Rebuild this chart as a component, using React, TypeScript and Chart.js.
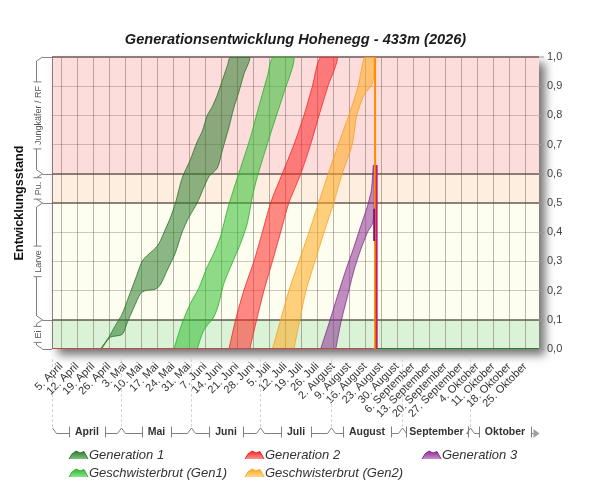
import React, { useEffect, useRef } from 'react';
import { Chart, registerables } from 'chart.js';

Chart.register(...registerables);

const FONT = '"Liberation Sans", Arial, Helvetica, sans-serif';
Chart.defaults.font.family = FONT;

// ---------- data ----------
const chartTitle = 'Generationsentwicklung Hohenegg - 433m (2026)';
const yAxisTitle = 'Entwicklungsstand';

// x axis: days since 1 April 2026
const X_MAX = 213;
const weekTickDays = [4, 11, 18, 25, 32, 39, 46, 53, 60, 67, 74, 81, 88, 95, 102, 109, 116, 123, 130, 137, 144, 151, 158, 165, 172, 179, 186, 193, 200, 207];
const weekTickLabels = [
  '5. April', '12. April', '19. April', '26. April',
  '3. Mai', '10. Mai', '17. Mai', '24. Mai', '31. Mai',
  '7. Juni', '14. Juni', '21. Juni', '28. Juni',
  '5. Juli', '12. Juli', '19. Juli', '26. Juli',
  '2. August', '9. August', '16. August', '23. August', '30. August',
  '6. September', '13. September', '20. September', '27. September',
  '4. Oktober', '11. Oktober', '18. Oktober', '25. Oktober',
];
const monthNames = ['April', 'Mai', 'Juni', 'Juli', 'August', 'September', 'Oktober'];
const monthStartDays = [0, 30, 61, 91, 122, 153, 183];

const yTickValues = [0, 0.1, 0.2, 0.3, 0.4, 0.5, 0.6, 0.7, 0.8, 0.9, 1.0];
const yTickLabels = ['0,0', '0,1', '0,2', '0,3', '0,4', '0,5', '0,6', '0,7', '0,8', '0,9', '1,0'];

const stageNames = ['Ei', 'Larve', 'Pu.', 'Jungkäfer / RF'];
const stageBounds = [0, 0.1, 0.5, 0.6, 1.0];

// [day, stage] pairs: early (fast) edge and late (slow) edge of each band
const gen1Early = [[21.2, 0], [24.8, 0.04], [27.7, 0.08], [30.7, 0.12], [33.6, 0.18], [36.5, 0.24], [39.4, 0.30], [41.6, 0.32], [44.5, 0.34], [46.7, 0.36], [49.6, 0.41], [51.8, 0.45], [54.0, 0.50], [56.9, 0.585], [60.6, 0.65], [63.5, 0.71], [65.7, 0.745], [67.9, 0.80], [70.1, 0.83], [72.3, 0.87], [74.5, 0.92], [76.7, 0.97], [78.1, 1.0]];
const gen1Late = [[21.6, 0], [25.5, 0.04], [30.7, 0.05], [32.9, 0.09], [35.7, 0.14], [38.7, 0.19], [40.9, 0.20], [45.2, 0.205], [47.4, 0.22], [50.4, 0.27], [54.0, 0.33], [56.9, 0.40], [59.8, 0.45], [63.5, 0.50], [68.6, 0.59], [72.3, 0.62], [74.5, 0.68], [77.4, 0.76], [79.5, 0.825], [81.7, 0.88], [83.9, 0.94], [86.4, 1.0]];

const sib1Early = [[53.3, 0], [56.9, 0.088], [60.6, 0.157], [64.2, 0.208], [67.9, 0.282], [70.8, 0.328], [73.7, 0.385], [76.7, 0.477], [80.3, 0.568], [83.2, 0.637], [86.9, 0.728], [90.5, 0.831], [94.2, 0.934], [96.8, 1.0]];
const sib1Late = [[63.5, 0], [66.4, 0.065], [70.8, 0.11], [73.0, 0.157], [75.2, 0.225], [78.8, 0.294], [82.5, 0.362], [85.4, 0.43], [87.6, 0.52], [89.8, 0.59], [93.4, 0.682], [97.1, 0.774], [101.4, 0.877], [105.8, 1.0]];

const gen2Early = [[77.4, 0], [80.3, 0.1], [83.9, 0.2], [88.3, 0.3], [92.0, 0.4], [95.6, 0.5], [100.7, 0.6], [105.8, 0.7], [110.2, 0.8], [113.9, 0.9], [117.5, 1.0]];
const gen2Late = [[86.5, 0], [89.5, 0.1], [92.7, 0.2], [96.4, 0.3], [100.0, 0.4], [103.6, 0.5], [108.8, 0.6], [113.1, 0.7], [116.8, 0.8], [120.7, 0.9], [124.8, 1.0]];

const sib2Early = [[96.4, 0], [100.0, 0.1], [103.6, 0.2], [108.0, 0.3], [112.4, 0.4], [116.6, 0.5], [120.8, 0.6], [125.2, 0.7], [129.8, 0.8], [133.9, 0.9], [136.8, 1.0]];
const sib2Late = [[105.8, 0], [108.4, 0.1], [111.1, 0.2], [115.0, 0.3], [119.0, 0.4], [123.2, 0.5], [126.9, 0.6], [131.3, 0.7], [133.3, 0.8], [136.5, 0.87], [140.2, 0.91], [140.6, 1.0]];

const gen3Early = [[117.5, 0], [121.2, 0.089], [124.8, 0.18], [128.5, 0.27], [132.1, 0.35], [135.0, 0.42], [138.0, 0.49], [139.7, 0.545], [140.6, 0.63]];
const gen3Late = [[124.1, 0], [126.3, 0.089], [129.2, 0.18], [132.1, 0.27], [135.0, 0.34], [138.0, 0.40], [140.2, 0.43], [140.9, 0.48]];

// vertical cut-off at the current date and the zero lines
const cutSib2 = [[141.3, 0], [141.3, 1.0]];
const cutGen3 = [[142.0, 0], [142.0, 0.63]];
const cutGen3Inner = [[140.9, 0.48], [140.9, 0.37]];
const baseBefore = [[0, 0], [142.0, 0]];
const baseAfter = [[142.0, 0], [X_MAX, 0]];

// ---------- styling ----------
const bandDefs = [
  { label: 'Generation 1', early: gen1Early, late: gen1Late, fill: 'rgba(45,125,45,0.55)', line: 'rgba(35,105,35,0.75)', solid: '#2c7a2c', light: '#7fbf7f', col: 0, row: 0 },
  { label: 'Geschwisterbrut (Gen1)', early: sib1Early, late: sib1Late, fill: 'rgba(50,190,50,0.55)', line: 'rgba(40,175,40,0.8)', solid: '#2fb52f', light: '#8fe08f', col: 0, row: 1 },
  { label: 'Generation 2', early: gen2Early, late: gen2Late, fill: 'rgba(255,40,40,0.55)', line: 'rgba(240,40,40,0.8)', solid: '#f02424', light: '#ff9090', col: 1, row: 0 },
  { label: 'Geschwisterbrut (Gen2)', early: sib2Early, late: sib2Late, fill: 'rgba(255,170,30,0.55)', line: 'rgba(250,160,30,0.8)', solid: '#f8a820', light: '#ffd890', col: 1, row: 1 },
  { label: 'Generation 3', early: gen3Early, late: gen3Late, fill: 'rgba(140,50,150,0.55)', line: 'rgba(125,35,135,0.75)', solid: '#8a2a94', light: '#c890cc', col: 2, row: 0 },
];
const stageColors = ['#daf2d6', '#fdfdf0', '#fdeedf', '#fddcdc'];
const legendCols = [69, 245, 422];
const legendRows = [455, 473];

const toPts = (arr: number[][]) => arr.map(([x, y]) => ({ x, y }));

const lineDs = (label: string, arr: number[][], color: string, width: number) => ({
  label,
  data: toPts(arr),
  borderColor: color,
  backgroundColor: color,
  borderWidth: width,
  fill: false,
  tension: 0,
  pointRadius: 0,
});

const decorPlugin = {
  id: 'decor',
  beforeDraw(chart: any) {
    const { ctx, chartArea: a, scales } = chart;
    const y = scales.y;
    ctx.save();
    ctx.fillStyle = '#ffffff';
    ctx.fillRect(0, 0, chart.width, chart.height);
    ctx.shadowColor = 'rgba(0,0,0,0.55)';
    ctx.shadowBlur = 9;
    ctx.shadowOffsetX = 6;
    ctx.shadowOffsetY = 6;
    ctx.fillStyle = '#ffffff';
    ctx.fillRect(a.left, a.top, a.right - a.left, a.bottom - a.top);
    ctx.restore();
    ctx.save();
    for (let i = 0; i < stageBounds.length - 1; i++) {
      const yb = y.getPixelForValue(stageBounds[i]);
      const yt = y.getPixelForValue(stageBounds[i + 1]);
      ctx.fillStyle = stageColors[i];
      ctx.fillRect(a.left, yt, a.right - a.left, yb - yt);
    }
    ctx.restore();
  },
  beforeDatasetsDraw(chart: any) {
    const { ctx, chartArea: a } = chart;
    ctx.save();
    ctx.strokeStyle = 'rgba(120,105,105,0.85)';
    ctx.lineWidth = 1;
    ctx.beginPath();
    ctx.moveTo(a.left + 0.5, a.top);
    ctx.lineTo(a.left + 0.5, a.bottom);
    ctx.stroke();
    ctx.restore();
  },
  afterDraw(chart: any) {
    const { ctx, chartArea: a, scales } = chart;
    const x = scales.x;
    const y = scales.y;
    ctx.save();
    // title
    ctx.fillStyle = '#1b1b1b';
    ctx.font = `italic bold 14.6px ${FONT}`;
    ctx.textAlign = 'center';
    ctx.textBaseline = 'middle';
    ctx.fillText(chartTitle, (a.left + a.right) / 2, 40);

    // y title
    ctx.save();
    ctx.translate(20, (a.top + a.bottom) / 2);
    ctx.rotate(-Math.PI / 2);
    ctx.font = `bold 12.6px ${FONT}`;
    ctx.fillStyle = '#111';
    ctx.fillText(yAxisTitle, 0, 0);
    ctx.restore();

    // stage brackets on the left
    const lineX = 36.5;
    const peakX = 42.5;
    ctx.lineWidth = 1;
    ctx.font = `9px ${FONT}`;
    for (let i = 0; i < stageNames.length; i++) {
      const yb = y.getPixelForValue(stageBounds[i]);
      const yt = y.getPixelForValue(stageBounds[i + 1]);
      const cy = (yb + yt) / 2;
      const tw = ctx.measureText(stageNames[i]).width;
      const gap = tw / 2 + 4;
      ctx.strokeStyle = '#808080';
      ctx.beginPath();
      ctx.moveTo(peakX, yb);
      ctx.lineTo(lineX, yb - 4);
      ctx.lineTo(lineX, cy + gap);
      ctx.moveTo(lineX - 3, cy + gap);
      ctx.lineTo(lineX + 5, cy + gap);
      ctx.moveTo(lineX - 3, cy - gap);
      ctx.lineTo(lineX + 5, cy - gap);
      ctx.moveTo(lineX, cy - gap);
      ctx.lineTo(lineX, yt + 4);
      ctx.lineTo(peakX, yt);
      ctx.stroke();
      ctx.save();
      ctx.translate(lineX + 2.5, cy);
      ctx.rotate(-Math.PI / 2);
      ctx.fillStyle = '#555';
      ctx.textAlign = 'center';
      ctx.textBaseline = 'middle';
      ctx.fillText(stageNames[i], 0, 0);
      ctx.restore();
    }
    ctx.strokeStyle = '#8a8080';
    ctx.beginPath();
    for (const b of stageBounds) {
      const py = Math.round(y.getPixelForValue(b)) + 0.5;
      ctx.moveTo(peakX, py);
      ctx.lineTo(a.left, py);
    }
    ctx.stroke();

    // month brackets below the axis
    const yb = 433.5;
    const peakY = 428;
    ctx.font = `bold 10.5px ${FONT}`;
    ctx.textAlign = 'center';
    ctx.textBaseline = 'middle';
    for (let i = 0; i < monthNames.length; i++) {
      const last = i === monthNames.length - 1;
      const xs = Math.round(x.getPixelForValue(monthStartDays[i])) + 0.5;
      const xe = Math.round(x.getPixelForValue(last ? X_MAX : monthStartDays[i + 1])) + 0.5;
      const cx = (xs + xe) / 2;
      const tw = ctx.measureText(monthNames[i]).width;
      const bl = Math.round(Math.max(cx - tw / 2 - 6, xs + 3)) + 0.5;
      const br = Math.round(Math.min(cx + tw / 2 + 6, xe - 3)) + 0.5;
      ctx.setLineDash([3, 2]);
      ctx.strokeStyle = '#d4d4d4';
      ctx.beginPath();
      ctx.moveTo(xs, a.bottom + 10);
      ctx.lineTo(xs, peakY);
      ctx.stroke();
      ctx.setLineDash([]);
      ctx.strokeStyle = '#808080';
      ctx.beginPath();
      ctx.moveTo(xs, peakY);
      ctx.lineTo(xs + 4, yb);
      ctx.lineTo(bl, yb);
      ctx.moveTo(bl, yb - 7);
      ctx.lineTo(bl, yb + 4);
      ctx.moveTo(br, yb - 7);
      ctx.lineTo(br, yb + 4);
      ctx.moveTo(br, yb);
      if (last) {
        ctx.lineTo(xe - 6, yb);
      } else {
        ctx.lineTo(xe - 4, yb);
        ctx.lineTo(xe, peakY);
      }
      ctx.stroke();
      if (last) {
        ctx.fillStyle = '#a0a0a0';
        ctx.beginPath();
        ctx.moveTo(xe - 6, yb - 4.5);
        ctx.lineTo(xe, yb);
        ctx.lineTo(xe - 6, yb + 4.5);
        ctx.closePath();
        ctx.fill();
      }
      ctx.fillStyle = '#333';
      ctx.fillText(monthNames[i], cx, 432);
    }

    // legend
    ctx.font = `italic 13px ${FONT}`;
    ctx.textAlign = 'left';
    ctx.textBaseline = 'middle';
    for (const b of bandDefs) {
      const lx = legendCols[b.col];
      const ly = legendRows[b.row];
      const g = ctx.createLinearGradient(0, ly - 4, 0, ly + 4);
      g.addColorStop(0, b.solid);
      g.addColorStop(1, b.light);
      ctx.beginPath();
      ctx.moveTo(lx, ly + 4);
      ctx.lineTo(lx + 3, ly - 1);
      ctx.lineTo(lx + 7, ly - 4);
      ctx.lineTo(lx + 11, ly - 2);
      ctx.lineTo(lx + 15, ly - 3.5);
      ctx.lineTo(lx + 19, ly + 4);
      ctx.closePath();
      ctx.fillStyle = g;
      ctx.fill();
      ctx.strokeStyle = b.solid;
      ctx.lineWidth = 1;
      ctx.beginPath();
      ctx.moveTo(lx, ly + 4);
      ctx.lineTo(lx + 3, ly - 1);
      ctx.lineTo(lx + 7, ly - 4);
      ctx.lineTo(lx + 11, ly - 2);
      ctx.lineTo(lx + 15, ly - 3.5);
      ctx.lineTo(lx + 19, ly + 4);
      ctx.stroke();
      ctx.fillStyle = '#333';
      ctx.fillText(b.label, lx + 20, ly);
    }
    ctx.restore();
  },
};

export default function App() {
  const ref = useRef<HTMLCanvasElement | null>(null);

  useEffect(() => {
    document.body.style.margin = '0';
    const bandDatasets = bandDefs.map((b) => ({
      label: b.label,
      data: toPts([...b.early, ...b.late.slice().reverse()]),
      backgroundColor: b.fill,
      borderColor: b.line,
      borderWidth: 1,
      fill: 'shape',
      tension: 0.25,
      pointRadius: 0,
    }));
    const datasets: any[] = [
      lineDs('Schnitt Gen3', cutGen3, '#c0206a', 2),
      lineDs('Schnitt Gen3 innen', cutGen3Inner, '#7a1a8a', 2),
      lineDs('Schnitt Gen2 Geschwister', cutSib2, '#ff8c00', 2),
      lineDs('Null vorher', baseBefore, '#c04a4a', 2),
      lineDs('Null nachher', baseAfter, '#2f7a2f', 2),
      ...bandDatasets,
    ];

    const chart = new Chart(ref.current as HTMLCanvasElement, {
      type: 'line',
      data: { datasets },
      options: {
        responsive: false,
        animation: false,
        events: [],
        layout: { padding: { left: 52, top: 57, right: 0, bottom: 0 } },
        plugins: {
          legend: { display: false },
          title: { display: false },
          tooltip: { enabled: false },
        },
        elements: { point: { radius: 0 } },
        scales: {
          x: {
            type: 'linear',
            position: 'bottom',
            min: 0,
            max: X_MAX,
            afterBuildTicks: (s: any) => {
              s.ticks = weekTickDays.map((v) => ({ value: v }));
            },
            afterFit: (s: any) => {
              s.height = 151;
            },
            ticks: {
              autoSkip: false,
              maxRotation: 45,
              minRotation: 45,
              padding: 11,
              color: '#333',
              font: { size: 11 },
              callback: (_v: any, i: number) => weekTickLabels[i],
            },
            grid: { color: 'rgba(85,70,65,0.4)', lineWidth: 1, drawTicks: false },
            border: { display: false },
          },
          y: {
            type: 'linear',
            position: 'right',
            min: 0,
            max: 1,
            afterBuildTicks: (s: any) => {
              s.ticks = yTickValues.map((v) => ({ value: v }));
            },
            afterFit: (s: any) => {
              s.width = 61;
            },
            ticks: {
              padding: 3,
              color: '#444',
              font: { size: 11 },
              callback: (_v: any, i: number) => yTickLabels[i],
            },
            grid: {
              color: (c: any) => {
                const v = c.tick ? c.tick.value : 0;
                if (v === 0) return 'rgba(0,0,0,0)';
                if (v === 1) return 'rgba(125,105,105,0.85)';
                if (v === 0.1 || v === 0.5 || v === 0.6) return 'rgba(90,80,70,0.7)';
                return 'rgba(85,70,65,0.28)';
              },
              lineWidth: (c: any) => {
                const v = c.tick ? c.tick.value : 0;
                if (v === 1 || v === 0.1 || v === 0.5 || v === 0.6) return 2;
                return 1;
              },
              tickLength: 5,
              tickColor: '#9a9a9a',
              tickWidth: 1,
            },
            border: { display: false },
          },
        },
      } as any,
      plugins: [decorPlugin],
    });
    return () => chart.destroy();
  }, []);

  return (
    <div style={{ width: 600, height: 500 }}>
      <canvas ref={ref} width={600} height={500} style={{ display: 'block' }} />
    </div>
  );
}
